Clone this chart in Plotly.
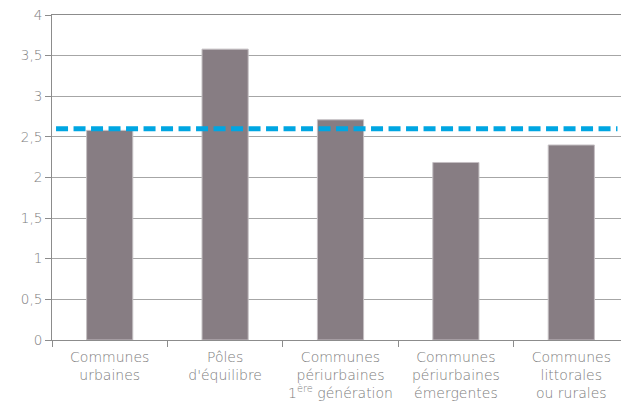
import plotly.graph_objects as go

categories = [
    "Communes<br>urbaines",
    "Pôles<br>d'équilibre",
    "Communes<br>périurbaines<br>1<sup>ère</sup> génération",
    "Communes<br>périurbaines<br>émergentes",
    "Communes<br>littorales<br>ou rurales",
]
values = [2.58, 3.58, 2.71, 2.185, 2.40]
reference_value = 2.60
y_ticks = [0, 0.5, 1, 1.5, 2, 2.5, 3, 3.5, 4]
y_tick_labels = ["0", "0,5", "1", "1,5", "2", "2,5", "3", "3,5", "4"]

fig = go.Figure()
fig.add_trace(go.Bar(
    x=categories, y=values,
    marker=dict(color="#877D83", line=dict(color="#C4BFC2", width=1)),
    width=0.4,
    hoverinfo="skip",
))

fig.add_shape(
    type="line", xref="paper", yref="y",
    x0=0.007, x1=0.98, y0=reference_value, y1=reference_value,
    line=dict(color="#00A6E2", width=5, dash="12px,5.5px"),
    layer="above",
)

fig.update_layout(
    width=629, height=401,
    margin=dict(l=44, r=8, t=7, b=69, autoexpand=False),
    paper_bgcolor="white", plot_bgcolor="white",
    showlegend=False,
    font=dict(family="DejaVu Sans, sans-serif", size=14, color="#7C7C7C", weight=300),
    bargap=0.6,
)
fig.update_xaxes(
    showgrid=False, showline=True, linecolor="#8C8C8C", linewidth=1,
    mirror=True,
    ticks="outside", ticklen=6, tickcolor="#8C8C8C",
    tickson="boundaries", automargin=False,
    ticklabelstandoff=4,
    tickfont=dict(family="DejaVu Sans, sans-serif", size=14, color="#7C7C7C", weight=300),
)
fig.update_yaxes(
    range=[0, 4], tickvals=y_ticks, ticktext=y_tick_labels,
    showgrid=True, gridcolor="#A6A6A6", gridwidth=1,
    showline=True, linecolor="#8C8C8C", linewidth=1,
    ticks="outside", ticklen=6, tickcolor="#8C8C8C", automargin=False,
    ticklabeloverflow="allow",
    tickfont=dict(family="DejaVu Sans, sans-serif", size=13.5, color="#7C7C7C", weight=300),
    zeroline=False,
)

fig.write_html("out.html")
